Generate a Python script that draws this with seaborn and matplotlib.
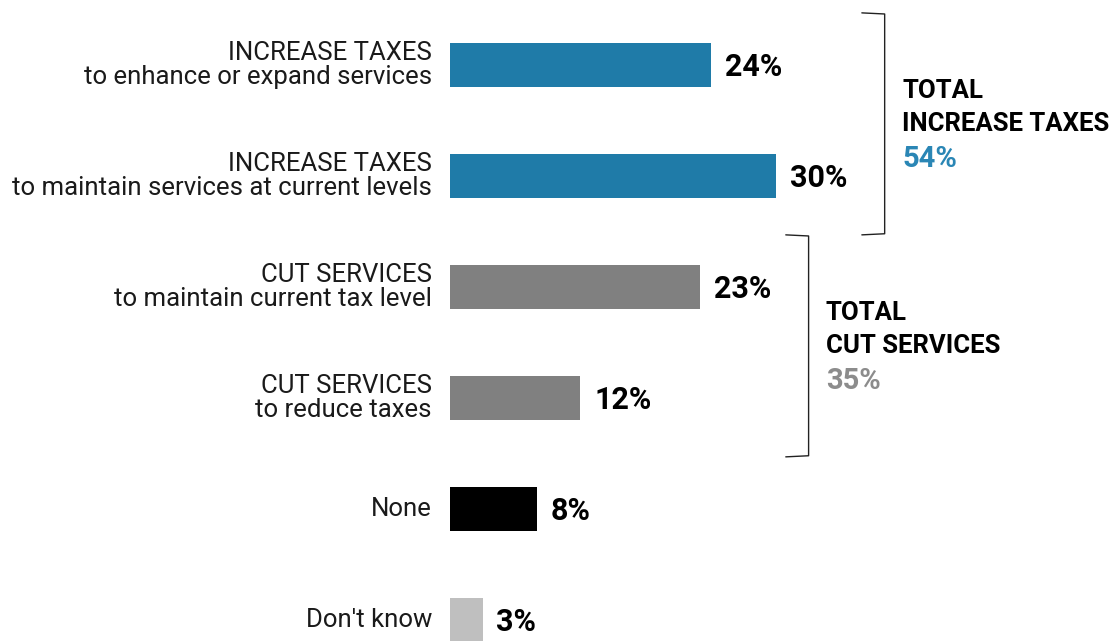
import matplotlib
matplotlib.use("Agg")
import matplotlib.pyplot as plt
import matplotlib.transforms as mtransforms
import seaborn as sns
import pandas as pd

categories = [
    "INCREASE TAXES\nto enhance or expand services",
    "INCREASE TAXES\nto maintain services at current levels",
    "CUT SERVICES\nto maintain current tax level",
    "CUT SERVICES\nto reduce taxes",
    "None",
    "Don't know",
]
values = [24, 30, 23, 12, 8, 3]
colors = ["#1F7BA8", "#1F7BA8", "#808080", "#808080", "#000000", "#BFBFBF"]
groups = [
    {"line1": "TOTAL", "line2": "INCREASE TAXES", "total": "54%", "start": 0, "end": 1, "color": "#2A86B5"},
    {"line1": "TOTAL", "line2": "CUT SERVICES", "total": "35%", "start": 2, "end": 3, "color": "#8C8C8C"},
]

sns.set_theme(style="white")
plt.rcParams["font.family"] = ["Roboto", "DejaVu Sans"]

df = pd.DataFrame({"cat": categories, "val": values})

fig = plt.figure(figsize=(11.13, 6.41), dpi=100)
ax = fig.add_axes([450 / 1113, 0, 652 / 1113, 1])
sns.barplot(data=df, x="val", y="cat", hue="cat", palette=colors, legend=False,
            width=0.4, orient="h", ax=ax, saturation=1, edgecolor="none")

ax.set_xlim(0, 60)
ax.set_ylim(5.189, -0.586)
ax.set_xlabel("")
ax.set_ylabel("")
ax.set_xticks([])
for s in ax.spines.values():
    s.set_visible(False)

ax.tick_params(axis="y", length=0, pad=13)
ax.set_yticks(range(len(categories)))
ax.set_yticklabels(categories, fontsize=18.5, fontweight="normal", color="#1a1a1a",
                   linespacing=1.0)
shift = mtransforms.ScaledTranslation(0, 3 / 100, fig.dpi_scale_trans)
for t in ax.get_yticklabels():
    t.set_multialignment("right")
    t.set_transform(t.get_transform() + shift)

for i, v in enumerate(values):
    ax.annotate(f"{v}%", xy=(v, i), xytext=(10, -1.5), textcoords="offset points",
                ha="left", va="center", fontsize=22, fontweight="bold", color="#000000")

for g in groups:
    s, e = g["start"], g["end"]
    xb = max(values[s:e + 1]) + 10
    top, bot = s - 0.46, e + 0.52
    hook = 2.1
    ax.plot([xb - hook, xb, xb, xb - hook], [top - 0.01, top, bot, bot + 0.01],
            color="#222222", lw=1.0, clip_on=False, solid_joinstyle="round")
    mid = (top + bot) / 2
    ax.annotate(g["line1"], xy=(xb + 1.6, mid), xytext=(0, 24), textcoords="offset points",
                ha="left", va="center", fontsize=18.5, fontweight="bold", color="#000000")
    ax.annotate(g["line2"], xy=(xb + 1.6, mid), xytext=(0, 0), textcoords="offset points",
                ha="left", va="center", fontsize=18.5, fontweight="bold", color="#000000")
    ax.annotate(g["total"], xy=(xb + 1.6, mid), xytext=(0, -25), textcoords="offset points",
                ha="left", va="center", fontsize=21, fontweight="bold", color=g["color"])

fig.savefig("out.png", dpi=100)
